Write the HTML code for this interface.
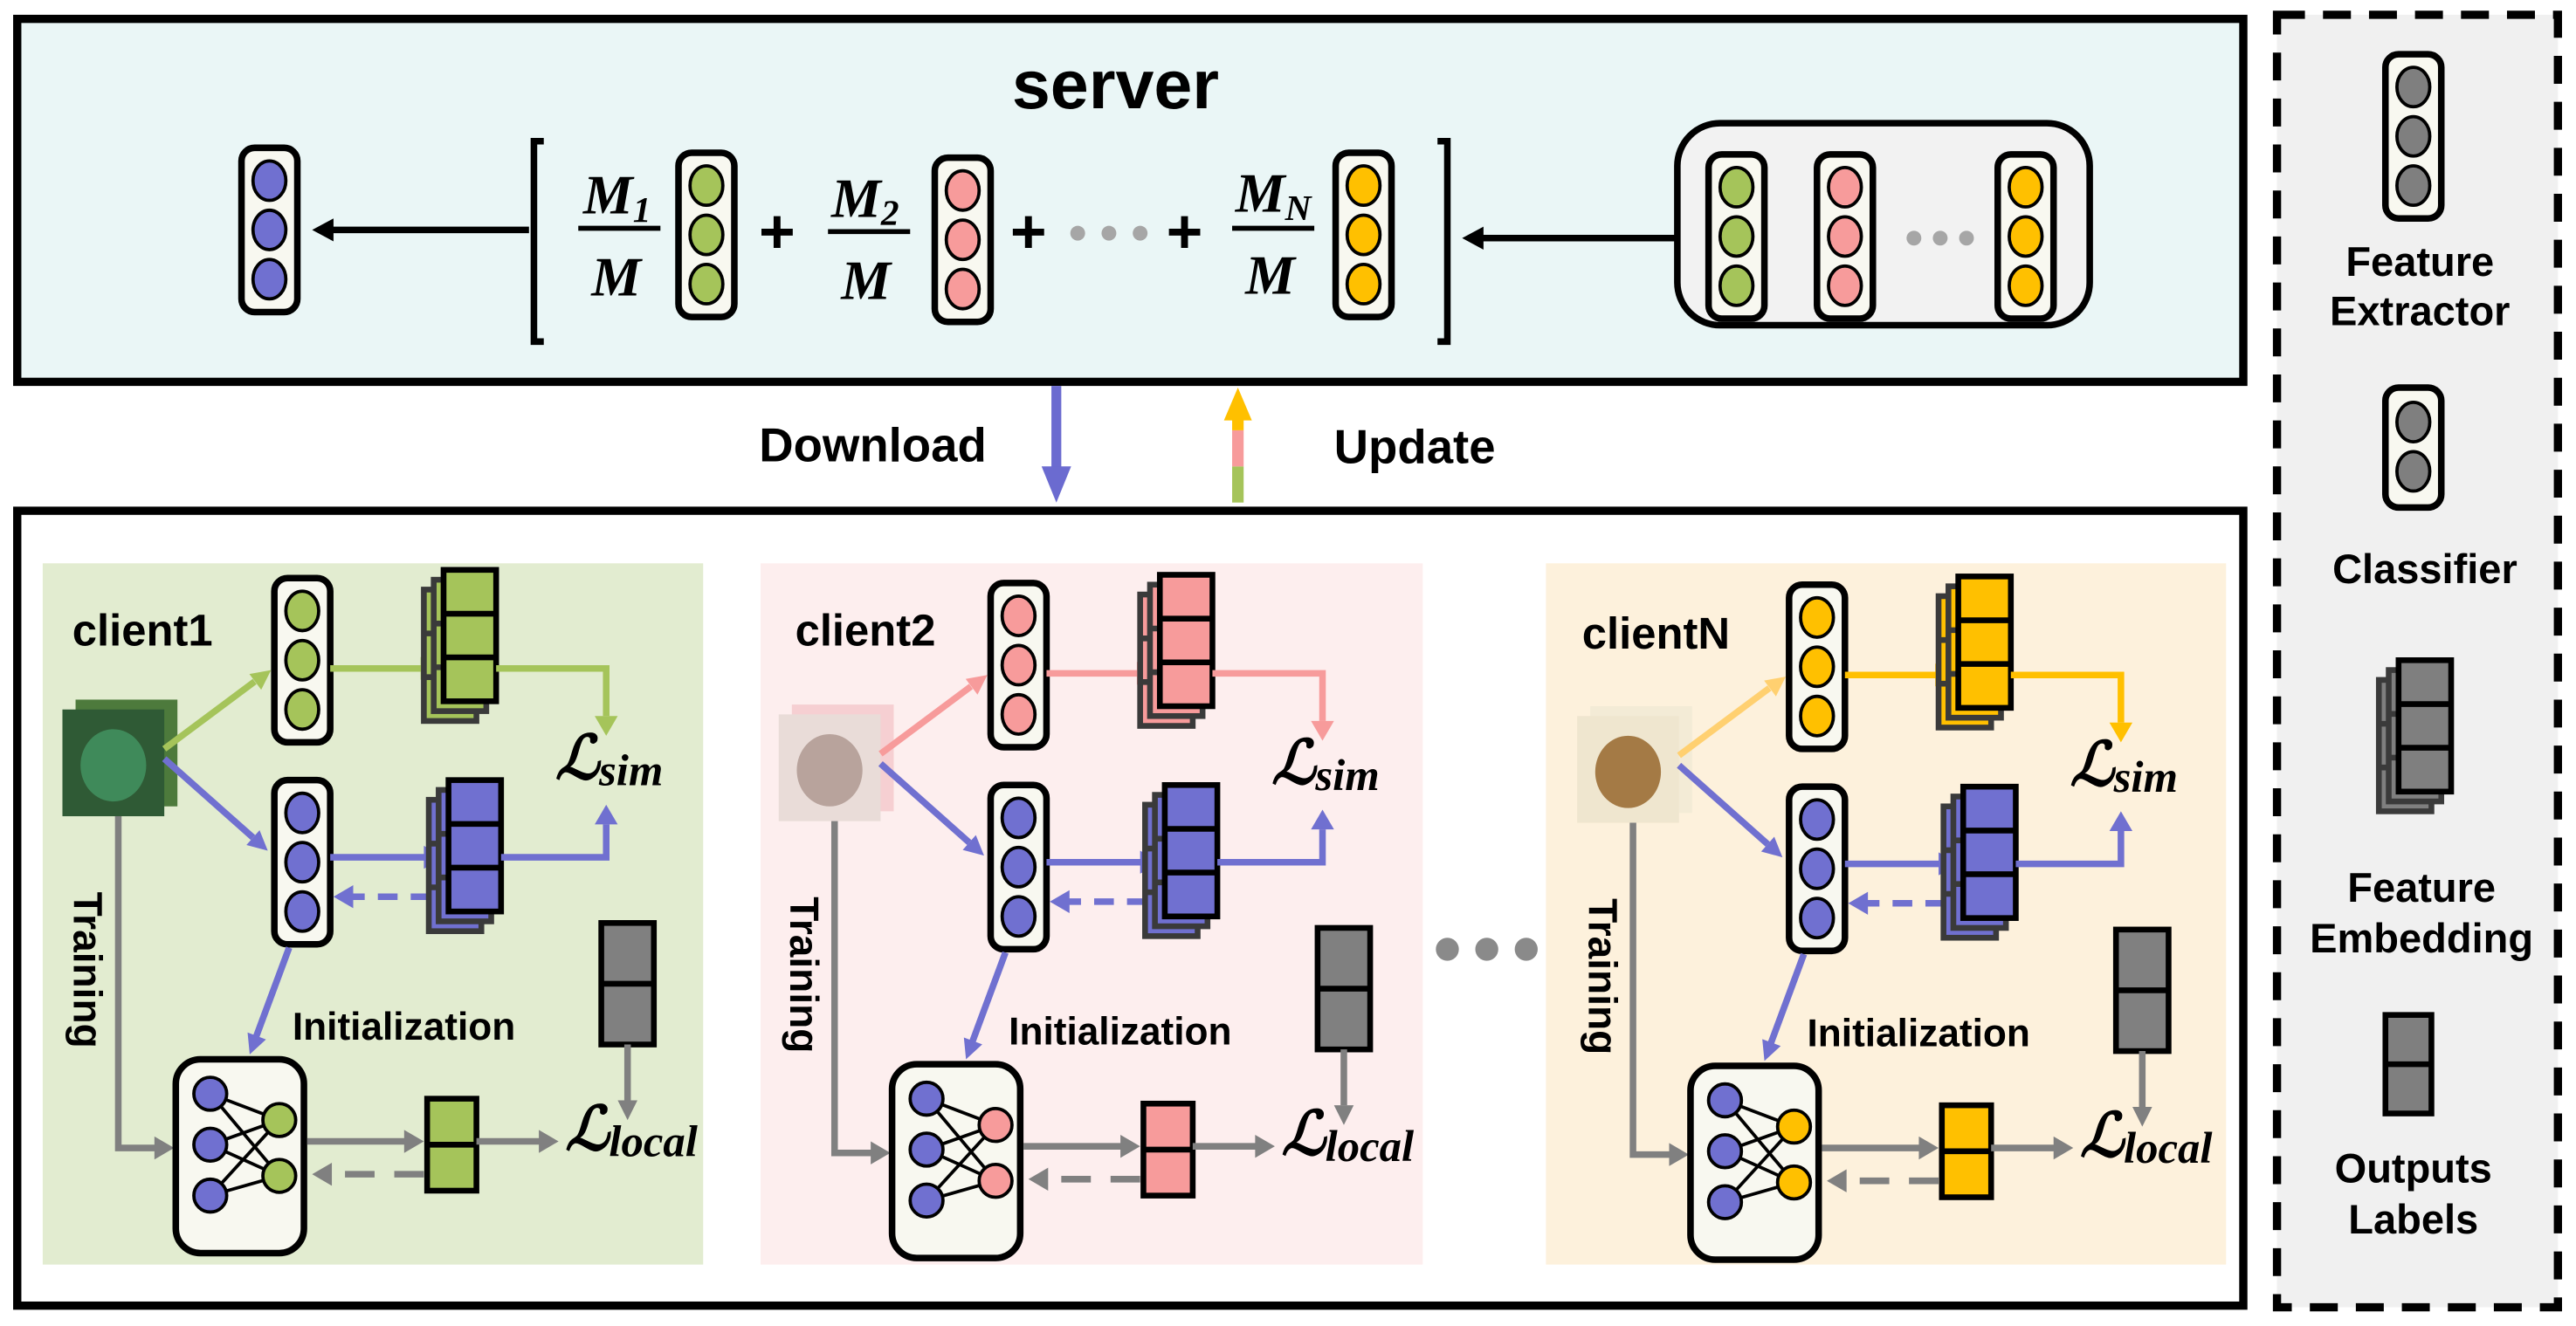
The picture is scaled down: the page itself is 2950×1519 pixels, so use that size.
<!DOCTYPE html>
<html><head><meta charset="utf-8"><style>
html,body{margin:0;padding:0;background:#fff}
svg{display:block}
.t{font-family:"Liberation Sans",sans-serif;font-weight:bold;fill:#000}
.m{font-family:"Liberation Serif",serif;font-style:italic;font-weight:bold;fill:#000}
</style></head><body>
<svg width="2950" height="1519" viewBox="0 0 1568 807.4" preserveAspectRatio="none" xmlns="http://www.w3.org/2000/svg">
<defs>
  <g id="col3">
    <rect x="0" y="0" width="34" height="100" rx="8" fill="#f8f8f0" stroke="#000" stroke-width="4"/>
    <ellipse cx="17" cy="20" rx="10" ry="12" stroke="#000" stroke-width="2"/>
    <ellipse cx="17" cy="50" rx="10" ry="12" stroke="#000" stroke-width="2"/>
    <ellipse cx="17" cy="80" rx="10" ry="12" stroke="#000" stroke-width="2"/>
  </g>
  <g id="layer">
    <rect x="0" y="0" width="32" height="80" stroke-width="3.5"/>
    <line x1="0" y1="26.7" x2="32" y2="26.7" stroke-width="3.5"/>
    <line x1="0" y1="53.3" x2="32" y2="53.3" stroke-width="3.5"/>
  </g>
  <g id="stack">
    <use href="#layer" x="-12" y="12" stroke="#3a3a3a"/>
    <use href="#layer" x="-6" y="6" stroke="#3a3a3a"/>
    <use href="#layer" x="0" y="0" stroke="#000"/>
  </g>
  <g id="client">
    <rect x="46" y="426" width="62" height="65" style="fill:var(--i2)"/>
    <rect x="38" y="432" width="62" height="65" style="fill:var(--i1)"/>
    <ellipse cx="69" cy="466" rx="20" ry="22" style="fill:var(--i3)"/>
    <line x1="100" y1="456" x2="155" y2="415" style="stroke:var(--a)" stroke-width="4"/>
    <polygon points="165,408 159,420 151.8,410.4" style="fill:var(--a)"/>
    <use href="#col3" x="167" y="352" style="fill:var(--c)"/>
    <line x1="201" y1="407" x2="258" y2="407" style="stroke:var(--c)" stroke-width="4"/>
    <polygon points="268,407 256,400 256,414" style="fill:var(--c)"/>
    <use href="#stack" x="270" y="347" style="fill:var(--c)"/>
    <polyline points="302,407 369,407 369,436" fill="none" style="stroke:var(--c)" stroke-width="4"/>
    <polygon points="369,448 362,436 376,436" style="fill:var(--c)"/>
    <text class="m" x="338" y="474" font-size="37">ℒ<tspan font-size="27" dy="4">sim</tspan></text>
    <line x1="100" y1="462" x2="154" y2="510" stroke="#7070d0" stroke-width="4"/>
    <polygon points="163,518 150,514.5 158,505.5" fill="#7070d0"/>
    <use href="#col3" x="167" y="475" fill="#7070d0"/>
    <line x1="201" y1="522" x2="260" y2="522" stroke="#7070d0" stroke-width="4"/>
    <polygon points="270,522 258,515 258,529" fill="#7070d0"/>
    <line x1="262" y1="546" x2="214" y2="546" stroke="#7070d0" stroke-width="4" stroke-dasharray="12,8"/>
    <polygon points="203,546 215,539 215,553" fill="#7070d0"/>
    <use href="#stack" x="273" y="475" fill="#7070d0"/>
    <polyline points="305,522 369,522 369,502" fill="none" stroke="#7070d0" stroke-width="4"/>
    <polygon points="369,490 362,502 376,502" fill="#7070d0"/>
    <line x1="176" y1="577" x2="156" y2="631" stroke="#7070d0" stroke-width="4"/>
    <polygon points="152,642 161.9,632.9 150.7,628.7" fill="#7070d0"/>
    <text class="t" x="178" y="633" font-size="23.5">Initialization</text>
    <rect x="366" y="562" width="32" height="74" fill="#808080" stroke="#000" stroke-width="3.5"/>
    <line x1="366" y1="599" x2="398" y2="599" stroke="#000" stroke-width="3.5"/>
    <line x1="382" y1="636" x2="382" y2="670" stroke="#808080" stroke-width="4"/>
    <polygon points="382,682 376,670 388,670" fill="#808080"/>
    <text class="m" x="344" y="700" font-size="37">ℒ<tspan font-size="27" dy="4">local</tspan></text>
    <polyline points="72,497 72,699 96,699" fill="none" stroke="#808080" stroke-width="4"/>
    <polygon points="106,699 94,692 94,706" fill="#808080"/>
    <text class="t" transform="translate(45,543) rotate(90)" font-size="24.5">Training</text>
    <rect x="107" y="645" width="78" height="118" rx="15" fill="#f8f8f0" stroke="#000" stroke-width="4"/>
    <g stroke="#000" stroke-width="2">
      <line x1="128" y1="666" x2="170" y2="682"/><line x1="128" y1="666" x2="170" y2="716"/>
      <line x1="128" y1="697" x2="170" y2="682"/><line x1="128" y1="697" x2="170" y2="716"/>
      <line x1="128" y1="728" x2="170" y2="682"/><line x1="128" y1="728" x2="170" y2="716"/>
      <circle cx="128" cy="666" r="10" fill="#7070d0"/><circle cx="128" cy="697" r="10" fill="#7070d0"/><circle cx="128" cy="728" r="10" fill="#7070d0"/>
      <circle cx="170" cy="682" r="10" style="fill:var(--c)"/><circle cx="170" cy="716" r="10" style="fill:var(--c)"/>
    </g>
    <line x1="187" y1="695" x2="248" y2="695" stroke="#808080" stroke-width="4"/>
    <polygon points="258,695 246,688 246,702" fill="#808080"/>
    <rect x="260" y="669" width="30" height="56" style="fill:var(--c)" stroke="#000" stroke-width="3.5"/>
    <line x1="260" y1="697" x2="290" y2="697" stroke="#000" stroke-width="3.5"/>
    <line x1="290" y1="695" x2="330" y2="695" stroke="#808080" stroke-width="4"/>
    <polygon points="340,695 328,688 328,702" fill="#808080"/>
    <line x1="258" y1="715" x2="202" y2="715" stroke="#808080" stroke-width="4" stroke-dasharray="18,12"/>
    <polygon points="190,715 202,708 202,722" fill="#808080"/>
  </g>
</defs>

<rect x="10.5" y="11.5" width="1355" height="221" fill="#eaf6f6" stroke="#000" stroke-width="5"/>
<text class="t" x="679" y="66" font-size="42" text-anchor="middle">server</text>
<use href="#col3" x="147" y="90" fill="#7070d0"/>
<line x1="322" y1="140" x2="200" y2="140" stroke="#000" stroke-width="4"/>
<polygon points="190,140 203,133 203,147" fill="#000"/>
<path d="M331,86 H325 V208 H331" fill="none" stroke="#000" stroke-width="4"/>
<path d="M875,86 H881 V208 H875" fill="none" stroke="#000" stroke-width="4"/>
<text class="m" x="355" y="130" font-size="34">M<tspan font-size="22" dy="5">1</tspan></text>
<line x1="352" y1="139" x2="402" y2="139" stroke="#000" stroke-width="3"/>
<text class="m" x="360" y="180" font-size="34">M</text>
<use href="#col3" x="413" y="93" fill="#a5c45a"/>
<text class="t" x="473" y="154" font-size="38" text-anchor="middle">+</text>
<text class="m" x="506" y="132" font-size="34">M<tspan font-size="22" dy="5">2</tspan></text>
<line x1="504" y1="141" x2="554" y2="141" stroke="#000" stroke-width="3"/>
<text class="m" x="512" y="182" font-size="34">M</text>
<use href="#col3" x="569" y="96" fill="#f79b9b"/>
<text class="t" x="626" y="154" font-size="38" text-anchor="middle">+</text>
<circle cx="656" cy="142" r="4.5" fill="#a6a6a6"/><circle cx="675" cy="142" r="4.5" fill="#a6a6a6"/><circle cx="694" cy="142" r="4.5" fill="#a6a6a6"/>
<text class="t" x="721" y="154" font-size="38" text-anchor="middle">+</text>
<text class="m" x="752" y="129" font-size="34">M<tspan font-size="22" dy="5">N</tspan></text>
<line x1="750" y1="139" x2="800" y2="139" stroke="#000" stroke-width="3"/>
<text class="m" x="758" y="179" font-size="34">M</text>
<use href="#col3" x="813" y="93" fill="#ffc000"/>
<line x1="1020" y1="145" x2="902" y2="145" stroke="#000" stroke-width="4"/>
<polygon points="890,145 903,138 903,152" fill="#000"/>
<rect x="1021" y="75" width="251" height="123" rx="26" fill="#f2f2f2" stroke="#000" stroke-width="4"/>
<use href="#col3" x="1040" y="94" fill="#a5c45a"/>
<use href="#col3" x="1106" y="94" fill="#f79b9b"/>
<circle cx="1165" cy="145" r="4.5" fill="#a6a6a6"/><circle cx="1181" cy="145" r="4.5" fill="#a6a6a6"/><circle cx="1197" cy="145" r="4.5" fill="#a6a6a6"/>
<use href="#col3" x="1216" y="94" fill="#ffc000"/>

<text class="t" x="462" y="281" font-size="29">Download</text>
<line x1="643" y1="235" x2="643" y2="288" stroke="#6b6bd0" stroke-width="6"/>
<polygon points="643,306 634,284 652,284" fill="#6b6bd0"/>
<rect x="750" y="284" width="7" height="22" fill="#a5c45a"/>
<rect x="750" y="262" width="7" height="22" fill="#f79b9b"/>
<rect x="750" y="252" width="7" height="10" fill="#ffc000"/>
<polygon points="753.5,236 745,256 762,256" fill="#ffc000"/>
<text class="t" x="812" y="282" font-size="29">Update</text>

<rect x="10.5" y="311" width="1355" height="484" fill="#fff" stroke="#000" stroke-width="5"/>
<rect x="26" y="343" width="402" height="427" fill="#e2ecd0"/>
<rect x="463" y="343" width="403" height="427" fill="#fdeeee"/>
<rect x="941" y="343" width="414" height="427" fill="#fdf1dc"/>

<use href="#client" style="--c:#a5c45a;--a:#a5c45a;--i1:#2f5a35;--i2:#4d7a3c;--i3:#3f8a5a"/>
<text class="t" x="44" y="393" font-size="27">client1</text>

<use href="#client" transform="translate(436,3)" style="--c:#f79b9b;--a:#f79b9b;--i1:#e9dcd8;--i2:#f6cfd2;--i3:#b8a39c"/>
<text class="t" x="484" y="393" font-size="27">client2</text>

<use href="#client" transform="translate(922,4)" style="--c:#ffc000;--a:#ffd070;--i1:#efe6cf;--i2:#f3ebd6;--i3:#a47a45"/>
<text class="t" x="963" y="395" font-size="27">clientN</text>

<circle cx="881" cy="578" r="7" fill="#8a8a8a"/><circle cx="905" cy="578" r="7" fill="#8a8a8a"/><circle cx="929" cy="578" r="7" fill="#8a8a8a"/>

<rect x="1386" y="9" width="171" height="787" fill="#f0f0f0" stroke="#000" stroke-width="5" stroke-dasharray="17,11"/>
<use href="#col3" x="1452" y="33" fill="#7f7f7f"/>
<text class="t" x="1473" y="168" font-size="25" text-anchor="middle">Feature</text>
<text class="t" x="1473" y="198" font-size="25" text-anchor="middle">Extractor</text>
<rect x="1452" y="236" width="34" height="73" rx="8" fill="#f8f8f0" stroke="#000" stroke-width="4"/>
<ellipse cx="1469" cy="257" rx="10" ry="12" fill="#7f7f7f" stroke="#000" stroke-width="2"/>
<ellipse cx="1469" cy="287" rx="10" ry="12" fill="#7f7f7f" stroke="#000" stroke-width="2"/>
<text class="t" x="1476" y="355" font-size="25" text-anchor="middle">Classifier</text>
<use href="#stack" x="1460" y="402" fill="#7f7f7f"/>
<text class="t" x="1474" y="549" font-size="25" text-anchor="middle">Feature</text>
<text class="t" x="1474" y="580" font-size="25" text-anchor="middle">Embedding</text>
<rect x="1452" y="618" width="28" height="60" fill="#7f7f7f" stroke="#000" stroke-width="3.5"/>
<line x1="1452" y1="648" x2="1480" y2="648" stroke="#000" stroke-width="3.5"/>
<text class="t" x="1469" y="720" font-size="25" text-anchor="middle">Outputs</text>
<text class="t" x="1469" y="751" font-size="25" text-anchor="middle">Labels</text>
</svg>
</body></html>
